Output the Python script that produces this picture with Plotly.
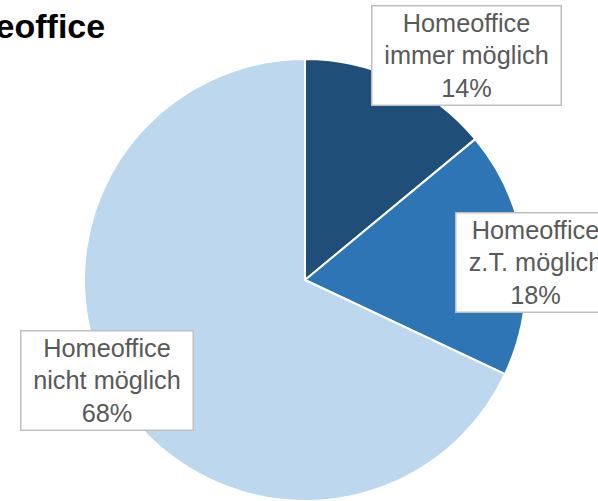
import plotly.graph_objects as go

# Anteile Homeoffice
labels = ["Homeoffice<br>immer möglich", "Homeoffice<br>z.T. möglich", "Homeoffice<br>nicht möglich"]
values = [14, 18, 68]
colors = ["#1F4E79", "#2E75B6", "#BDD7EE"]
title = "Homeoffice"

W, H = 598, 501

def px(x):
    return x / W

def py(y):
    return 1 - y / H

fig = go.Figure(go.Pie(
    labels=labels,
    values=values,
    sort=False,
    direction="clockwise",
    rotation=0,
    textinfo="none",
    hoverinfo="label+percent",
    marker=dict(colors=colors, line=dict(color="white", width=2)),
    domain=dict(x=[px(84), px(526)], y=[0, py(59)]),
    showlegend=False,
))

# Beschriftungskästen (Mitte in Pixeln, Breite)
boxes = [(466, 55, 184), (535, 262, 154), (106.5, 380.5, 167)]
annos = []
for (cx, cy, w), lab, v in zip(boxes, labels, values):
    annos.append(dict(
        x=px(cx), y=py(cy), xref="paper", yref="paper",
        xanchor="center", yanchor="middle",
        text=f"{lab}<br>{v}%", showarrow=False,
        font=dict(family="Liberation Sans, Arial", size=25.3, color="#595959"),
        bgcolor="white", bordercolor="#BFBFBF", borderwidth=1.5, borderpad=2,
        width=w, align="center",
    ))

annos.append(dict(
    x=px(107), y=py(26), xref="paper", yref="paper",
    xanchor="right", yanchor="middle", showarrow=False,
    text=f"<b>{title}</b>",
    font=dict(family="Liberation Sans, Arial", size=34, color="black"),
))

fig.update_layout(
    width=W, height=H,
    margin=dict(l=0, r=0, t=0, b=0),
    paper_bgcolor="white",
    annotations=annos,
)

# Seitenrand des Browsers entfernen
fig.write_html("out.html", config={"displayModeBar": False},
               post_script="document.body.style.margin='0';")
